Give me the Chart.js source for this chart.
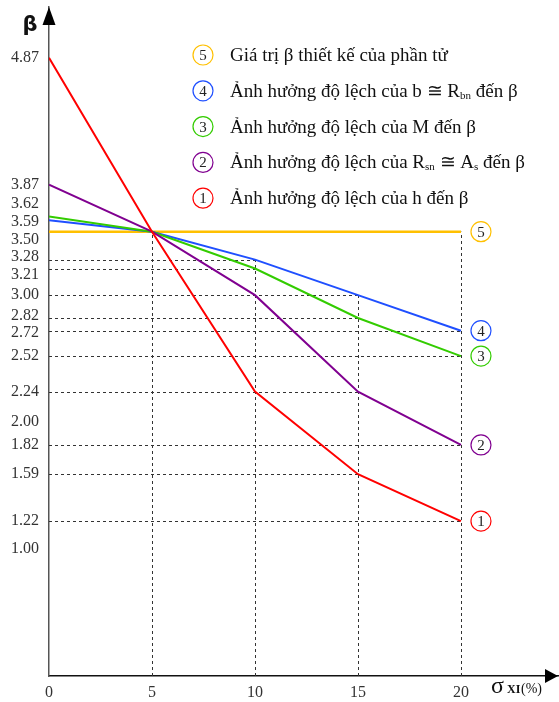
<!DOCTYPE html>
<html>
<head>
<meta charset="utf-8">
<script src="https://cdn.jsdelivr.net/npm/chart.js@4.4.0/dist/chart.umd.min.js"></script>
<style>
  body { margin: 0; background: #fff; }
  #wrap { width: 559px; height: 702px; }
</style>
</head>
<body>
<div id="wrap"><canvas id="chart" width="559" height="702"></canvas></div>
<script>
// Độ lệch σxi (%)
const sigma = [0, 5, 10, 15, 20];

// Giá trị β của từng đường (số trong vòng tròn)
const betaDesign = [3.50, 3.50, 3.50, 3.50, 3.50]; // 5
const betaB = [3.59, 3.50, 3.28, 3.00, 2.72];      // 4
const betaM = [3.62, 3.50, 3.21, 2.82, 2.52];      // 3
const betaRs = [3.87, 3.50, 3.00, 2.24, 1.82];     // 2
const betaH = [4.87, 3.50, 2.24, 1.59, 1.22];      // 1

const xTicks = [0, 5, 10, 15, 20];
const yTicks = [4.87, 3.87, 3.62, 3.59, 3.50, 3.28, 3.21, 3.00, 2.82, 2.72, 2.52, 2.24, 2.00, 1.82, 1.59, 1.22, 1.00];

// Chú thích: [chữ, chỉ số dưới]
const legendText = {
  5: [["Giá trị β thiết kế của phần tử"]],
  4: [["Ảnh hưởng độ lệch của b ≅ R"], ["bn", true], [" đến β"]],
  3: [["Ảnh hưởng độ lệch của M đến β"]],
  2: [["Ảnh hưởng độ lệch của R"], ["sn", true], [" ≅ A"], ["s", true], [" đến β"]],
  1: [["Ảnh hưởng độ lệch của h đến β"]]
};

const series = [
  { num: 5, data: betaDesign, color: "#FFC000", width: 2.5 },
  { num: 4, data: betaB, color: "#1F4FFF", width: 2 },
  { num: 3, data: betaM, color: "#33CC00", width: 2 },
  { num: 2, data: betaRs, color: "#800090", width: 2 },
  { num: 1, data: betaH, color: "#FF0000", width: 2 }
];

const SERIF = "'Liberation Serif', 'Times New Roman', serif";

// Dàn các nhãn trục β để không chồng lên nhau
function spreadTicks(values, gap) {
  const sorted = [...values].sort((a, b) => b - a);
  const groups = [];
  const mean = g => g.items.reduce((a, b) => a + b, 0) / g.items.length;
  const half = g => gap * (g.items.length - 1) / 2;
  sorted.forEach(v => {
    groups.push({ items: [v] });
    while (groups.length > 1) {
      const g = groups[groups.length - 1];
      const p = groups[groups.length - 2];
      const pBottom = mean(p) - half(p);
      const gTop = mean(g) + half(g);
      if (pBottom - gTop >= gap - 1e-9) break;
      p.items = p.items.concat(g.items);
      groups.pop();
    }
  });
  const ticks = [];
  groups.forEach(g => {
    const m = mean(g), h = half(g);
    g.items.forEach((v, i) => ticks.push({ value: m + h - i * gap, text: v.toFixed(2) }));
  });
  return ticks;
}

function dashed(ctx, x1, y1, x2, y2) {
  ctx.beginPath();
  ctx.moveTo(x1, y1);
  ctx.lineTo(x2, y2);
  ctx.stroke();
}

const guides = {
  id: "guides",
  beforeDatasetsDraw(chart) {
    const { ctx, scales: { x, y } } = chart;
    ctx.save();
    ctx.setLineDash([3, 3]);
    ctx.strokeStyle = "#333";
    ctx.lineWidth = 1;
    const curves = series.filter(s => s.num !== 5);
    // đường ngang từ trục β tới các điểm
    curves.forEach(s => s.data.forEach((v, i) => {
      if (sigma[i] < 10) return;
      const py = Math.round(y.getPixelForValue(v)) + 0.5;
      dashed(ctx, x.getPixelForValue(0), py, x.getPixelForValue(sigma[i]), py);
    }));
    // đường dọc từ trục σ lên
    sigma.forEach((s, i) => {
      if (s === 0) return;
      const last = i === sigma.length - 1;
      const top = last ? betaDesign[i] : Math.max(...curves.map(c => c.data[i]));
      const px = Math.round(x.getPixelForValue(s)) + 0.5;
      dashed(ctx, px, y.getPixelForValue(0), px, y.getPixelForValue(top));
    });
    ctx.restore();
  },
  afterDraw(chart) {
    const { ctx, chartArea: a, scales: { x, y } } = chart;
    ctx.save();
    // mũi tên hai trục
    ctx.fillStyle = "#000";
    ctx.beginPath();
    ctx.moveTo(a.left, a.top);
    ctx.lineTo(a.left - 6.5, a.top + 18);
    ctx.lineTo(a.left + 6.5, a.top + 18);
    ctx.fill();
    ctx.beginPath();
    ctx.moveTo(a.right, a.bottom);
    ctx.lineTo(a.right - 13, a.bottom - 7);
    ctx.lineTo(a.right - 13, a.bottom + 7);
    ctx.fill();

    // tên trục
    ctx.fillStyle = "#111";
    ctx.textAlign = "center";
    ctx.textBaseline = "alphabetic";
    ctx.font = "bold 21px 'DejaVu Sans', sans-serif";
    ctx.fillText("β", 30, 31);
    ctx.textAlign = "left";
    ctx.font = "24px " + SERIF;
    ctx.fillText("σ", 491, 693);
    ctx.font = "bold 12px " + SERIF;
    ctx.fillText("XI", 507, 693);
    ctx.font = "14px " + SERIF;
    ctx.fillText("(%)", 521, 693);

    // vòng tròn cuối mỗi đường
    const circle = (cx, cy, color, num) => {
      ctx.beginPath();
      ctx.arc(cx, cy, 10, 0, Math.PI * 2);
      ctx.strokeStyle = color;
      ctx.lineWidth = 1.2;
      ctx.stroke();
      ctx.fillStyle = "#222";
      ctx.font = "15px " + SERIF;
      ctx.textAlign = "center";
      ctx.textBaseline = "middle";
      ctx.fillText(String(num), cx, cy + 1);
    };
    series.forEach(s => {
      const i = s.data.length - 1;
      circle(x.getPixelForValue(sigma[i]) + 20, y.getPixelForValue(s.data[i]), s.color, s.num);
    });

    // chú thích
    series.forEach((s, row) => {
      const cy = 55 + row * 35.8;
      circle(203, cy, s.color, s.num);
      let tx = 230;
      ctx.textAlign = "left";
      ctx.textBaseline = "alphabetic";
      ctx.fillStyle = "#111";
      legendText[s.num].forEach(([t, sub]) => {
        ctx.font = (sub ? "11px " : "19px ") + SERIF;
        ctx.fillText(t, tx, cy + (sub ? 8 : 6));
        tx += ctx.measureText(t).width;
      });
    });
    ctx.restore();
  }
};

new Chart(document.getElementById("chart"), {
  type: "line",
  data: {
    datasets: series.map(s => ({
      label: String(s.num),
      data: sigma.map((v, i) => ({ x: v, y: s.data[i] })),
      borderColor: s.color,
      borderWidth: s.width,
      pointRadius: 0,
      tension: 0,
      fill: false
    })).reverse()
  },
  options: {
    responsive: false,
    animation: false,
    layout: { padding: { top: 7, right: 1, left: 0, bottom: 0 } },
    plugins: { legend: { display: false }, tooltip: { enabled: false } },
    scales: {
      x: {
        type: "linear",
        min: 0,
        max: 24.71,
        grid: { display: false, drawTicks: false },
        border: { display: true, color: "#111", width: 1.5 },
        ticks: { autoSkip: false, maxRotation: 0, padding: 7, color: "#333", font: { family: SERIF, size: 16 } },
        afterBuildTicks: s => { s.ticks = xTicks.map(v => ({ value: v })); },
        afterFit: s => { s.height = 26; s.paddingLeft = 0; s.paddingRight = 0; }
      },
      y: {
        type: "linear",
        min: 0,
        max: 5.27,
        grid: { display: false, drawTicks: false },
        border: { display: true, color: "#555", width: 1.5 },
        ticks: {
          autoSkip: false,
          padding: 10,
          color: "#333",
          font: { family: SERIF, size: 16 },
          callback: (v, i, ticks) => ticks[i].text
        },
        afterBuildTicks: s => { s.ticks = spreadTicks(yTicks, 0.14); },
        afterFit: s => { s.width = 49; s.paddingTop = 0; s.paddingBottom = 0; }
      }
    }
  },
  plugins: [guides]
});
</script>
</body>
</html>
